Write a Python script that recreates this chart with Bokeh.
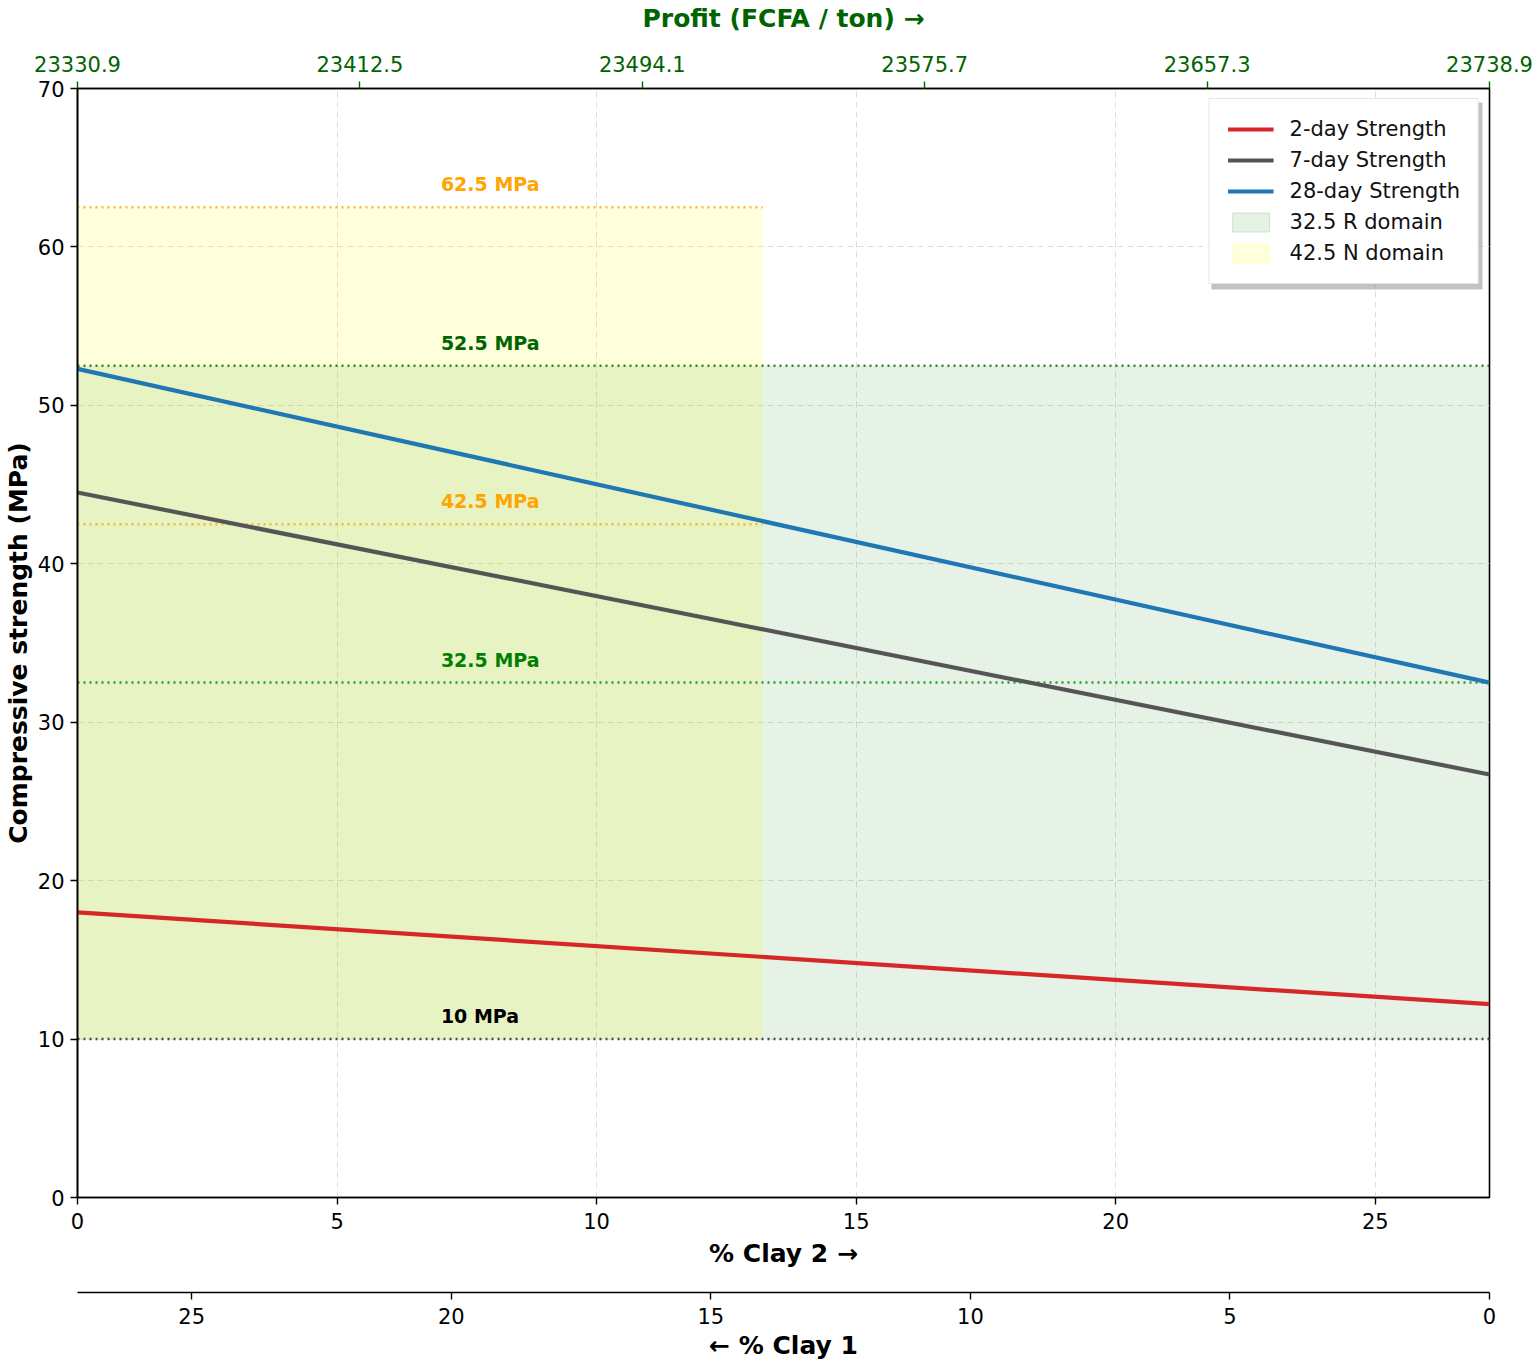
from bokeh.plotting import figure
from bokeh.models import (Range1d, LinearAxis, FixedTicker, PrintfTickFormatter,
                          Legend, LegendItem)
from bokeh.core.properties import value
from bokeh.embed import file_html
from bokeh.resources import INLINE

# ---------------- data ----------------
clay2_range = [0.0, 27.2]          # % Clay 2 (x axis extent)
strength_2d = [18.0, 12.2]         # MPa at clay2 = 0 and 27.2
strength_7d = [44.5, 26.7]
strength_28d = [52.3, 32.5]
profit_ticks = [23330.9, 23412.5, 23494.1, 23575.7, 23657.3, 23738.9]
clay2_ticks = [0, 5, 10, 15, 20, 25]
clay1_ticks = [25, 20, 15, 10, 5, 0]
strength_ticks = [0, 10, 20, 30, 40, 50, 60, 70]
domain_325R = [0.0, 27.2, 10.0, 52.5]   # x0, x1, y0, y1
domain_425N = [0.0, 13.2, 10.0, 62.5]
ref_levels = [62.5, 52.5, 42.5, 32.5, 10.0]
ref_labels = ["62.5 MPa", "52.5 MPa", "42.5 MPa", "32.5 MPa", "10 MPa"]
ref_xend = [13.2, 27.2, 13.2, 27.2, 27.2]
ref_colors = ["orange", "darkgreen", "orange", "green", "#222222"]
label_colors = ["orange", "darkgreen", "orange", "green", "black"]
label_x = 7.0

FONT = "DejaVu Sans"
XMAX = clay2_range[1]
YMAX = 70.0
FW, FH = 1412, 1109

p = figure(frame_width=FW, frame_height=FH,
           x_range=Range1d(0, XMAX), y_range=Range1d(0, YMAX),
           output_backend="svg", toolbar_location=None,
           min_border_left=0, min_border_right=44, min_border_top=0, min_border_bottom=0)
p.background_fill_color = "white"
p.outline_line_color = "black"
p.outline_line_width = 1.6

# domains
p.quad(left=domain_325R[0], right=domain_325R[1], bottom=domain_325R[2], top=domain_325R[3],
       fill_color="green", fill_alpha=0.1, line_color=None)
p.quad(left=domain_425N[0], right=domain_425N[1], bottom=domain_425N[2], top=domain_425N[3],
       fill_color="yellow", fill_alpha=0.14, line_color=None)

# reference lines
for lvl, xe, c in zip(ref_levels, ref_xend, ref_colors):
    p.line([0, xe], [lvl, lvl], line_color=c, line_width=2.5, line_dash="2 4", line_alpha=0.8)
for lvl, lab, c in zip(ref_levels, ref_labels, label_colors):
    p.text(x=[label_x], y=[lvl + 0.75], text=[lab], text_color=c,
           text_font=value(FONT), text_font_style="bold", text_font_size="19px",
           text_baseline="bottom", text_align="left")

# strength lines
r2 = p.line(clay2_range, strength_2d, line_color="#d62728", line_width=4.2)
r7 = p.line(clay2_range, strength_7d, line_color="#555555", line_width=4.2)
r28 = p.line(clay2_range, strength_28d, line_color="#1f77b4", line_width=4.2)

# legend shadow (in data coords from pixel geometry)
upx = XMAX / FW
upy = YMAX / FH
lw, lh, off = 271, 187, 3
sx1 = XMAX - 10 * upx + off * upx
sx0 = sx1 - lw * upx
sy1 = YMAX - 11 * upy - off * upy
sy0 = sy1 - lh * upy
p.quad(left=[sx0], right=[sx1], bottom=[sy0], top=[sy1], fill_color="#999999",
       fill_alpha=0.6, line_color=None)

# legend proxies
lg1 = p.quad(left=[0], right=[0], bottom=[0], top=[0], fill_color="green", fill_alpha=0.1,
             line_color="green", line_alpha=0.15)
lg2 = p.quad(left=[0], right=[0], bottom=[0], top=[0], fill_color="yellow", fill_alpha=0.14,
             line_color="yellow", line_alpha=0.15)
legend = Legend(items=[
    LegendItem(label="2-day Strength", renderers=[r2]),
    LegendItem(label="7-day Strength", renderers=[r7]),
    LegendItem(label="28-day Strength", renderers=[r28]),
    LegendItem(label="32.5 R domain", renderers=[lg1]),
    LegendItem(label="42.5 N domain", renderers=[lg2]),
], location="top_right")
legend.label_text_font = FONT
legend.label_text_font_size = "21px"
legend.label_text_color = "#111111"
legend.glyph_width = 46
legend.glyph_height = 24
legend.label_height = 24
legend.spacing = 7
legend.padding = 18
legend.margin = 10
legend.label_standoff = 16
legend.border_line_color = "#cccccc"
legend.border_line_width = 1.5
legend.background_fill_alpha = 1.0
p.add_layout(legend, "center")

# grid
for g in (p.xgrid, p.ygrid):
    g.grid_line_color = "#dddddd"
    g.grid_line_dash = "6 4"
    g.grid_line_width = 1
p.xgrid.ticker = FixedTicker(ticks=clay2_ticks)
p.ygrid.ticker = FixedTicker(ticks=strength_ticks)

def style_axis(ax, color="black"):
    ax.major_label_text_font = FONT
    ax.major_label_text_font_size = "21px"
    ax.major_label_text_color = color
    ax.axis_label_text_font = FONT
    ax.axis_label_text_font_style = "bold"
    ax.axis_label_text_font_size = "25px"
    ax.axis_label_text_color = color
    ax.axis_line_color = "black"
    ax.axis_line_width = 1.6
    ax.major_tick_line_color = color
    ax.major_tick_line_width = 1.4
    ax.major_tick_out = 7
    ax.major_tick_in = 0
    ax.minor_tick_line_color = None

# main axes
xa = p.xaxis[0]
xa.ticker = FixedTicker(ticks=clay2_ticks)
xa.axis_label = "% Clay 2 →"
style_axis(xa)
xa.major_label_standoff = 8
xa.axis_label_standoff = 7

ya = p.yaxis[0]
ya.ticker = FixedTicker(ticks=strength_ticks)
ya.axis_label = "Compressive strength (MPa)"
style_axis(ya)
ya.major_label_standoff = 6
ya.axis_label_standoff = 2

# top profit axis
p.extra_x_ranges = {"profit": Range1d(profit_ticks[0], profit_ticks[-1]),
                    "clay1": Range1d(XMAX, 0)}
ta = LinearAxis(x_range_name="profit", axis_label="Profit (FCFA / ton) →",
                ticker=FixedTicker(ticks=profit_ticks),
                formatter=PrintfTickFormatter(format="%.1f"))
style_axis(ta, color="darkgreen")
ta.axis_line_color = "black"
ta.major_label_standoff = 10
ta.axis_label_standoff = 20
p.add_layout(ta, "above")

# spacer axis below
sp = LinearAxis(ticker=FixedTicker(ticks=[]), axis_line_color=None,
                major_tick_out=0, major_tick_in=0, major_tick_line_color=None,
                minor_tick_line_color=None, axis_label=" ",
                axis_label_text_font_size="12px", axis_label_standoff=5)
p.add_layout(sp, "below")

# secondary bottom axis (% Clay 1)
ba = LinearAxis(x_range_name="clay1", axis_label="← % Clay 1",
                ticker=FixedTicker(ticks=clay1_ticks))
style_axis(ba)
ba.major_label_standoff = 8
ba.axis_label_standoff = 4
p.add_layout(ba, "below")

open("out.html", "w").write(file_html(p, INLINE))
